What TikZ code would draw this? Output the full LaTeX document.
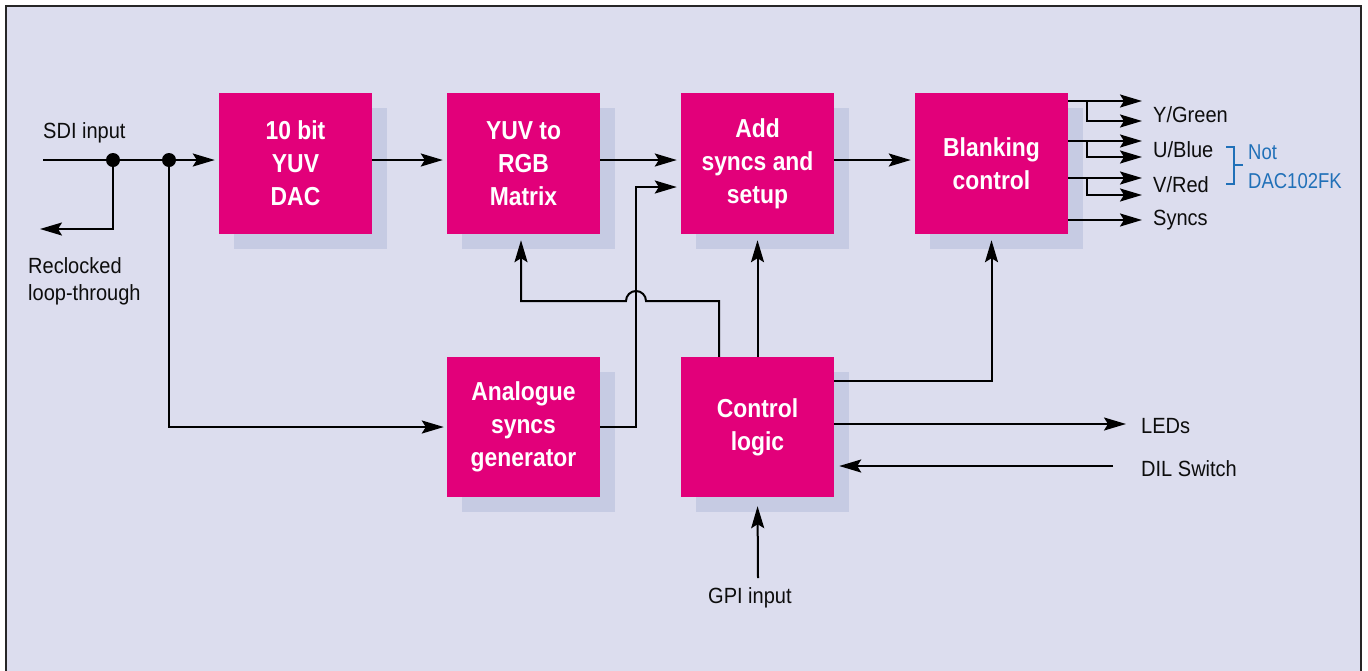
\documentclass[tikz,border=0pt]{standalone}
\usepackage{fontspec}
\usetikzlibrary{arrows.meta,shadows,calc}
\newfontfamily\labfont[FakeStretch=0.91]{Liberation Sans}
\newfontfamily\bluefont[FakeStretch=0.86]{Liberation Sans}
\newfontfamily\boxfont[FakeStretch=0.88]{Liberation Sans}
\definecolor{bg}{HTML}{DCDDEE}
\definecolor{shad}{HTML}{C6CBE3}
\definecolor{mag}{HTML}{E2007A}
\definecolor{blu}{HTML}{2070B8}
\tikzset{
  blockbox/.style={rectangle, fill=mag, minimum width=153pt, minimum height=141pt, inner sep=0pt,
    text=white, align=center, font=\boxfont\bfseries\fontsize{26}{33}\selectfont,
    general shadow={fill=shad, shadow xshift=15pt, shadow yshift=-15pt}},
  lab/.style={inner sep=0pt, font=\labfont\fontsize{22}{27}\selectfont, text=black!95},
  wire/.style={line width=2pt, draw=black},
  arr/.style={wire, -{Stealth[length=22pt,width=13pt,inset=4pt]}},
  dot/.style={circle, fill=black, minimum size=14pt, inner sep=0pt},
}
\begin{document}
\begin{tikzpicture}[x=1pt,y=-1pt]
\useasboundingbox (0,0) rectangle (1368,670);
\fill[white] (0,0) rectangle (1368,670);
\draw[fill=bg, line width=2pt, draw=black!85] (6,6) rectangle (1361,700);

% blocks
\node[blockbox] (dac) at (295.5,163.5) {10 bit\\YUV\\DAC};
\node[blockbox] (mat) at (523.5,163.5) {YUV to\\RGB\\Matrix};
\node[blockbox] (add) at (757.5,163.5) {Add\\syncs and\\setup};
\node[blockbox] (blk) at (991.5,163.5) {Blanking\\control};
\node[blockbox, minimum height=140pt] (gen) at (523.5,427) {Analogue\\syncs\\generator};
\node[blockbox, minimum height=140pt] (ctl) at (757.5,427) {Control\\logic};

% labels
\node[lab, anchor=base west] (sdi) at (43,138) {SDI input};
\node[lab, anchor=north west, align=left, font=\labfont\fontsize{22}{27}\selectfont] (loop) at (28,257) {Reclocked\\loop-through};
\node[lab, anchor=base west] (gpi) at (708,603) {GPI input};
\node[lab, anchor=base west] (leds) at (1141,433) {LEDs};
\node[lab, anchor=base west] (dil) at (1141,476) {DIL Switch};
\node[lab, anchor=base west] (yg) at (1153,122) {Y/Green};
\node[lab, anchor=base west] (ub) at (1153,157) {U/Blue};
\node[lab, anchor=base west] (vr) at (1153,192) {V/Red};
\node[lab, anchor=base west] (sy) at (1153,225) {Syncs};
\node[lab, anchor=north west, align=left, text=blu, font=\bluefont\fontsize{21.5}{29}\selectfont] (note) at (1248,145) {Not\\DAC102FK};

% coordinates
\coordinate (sdiIn) at (43,160);
\coordinate (loopEnd) at (40,229);
\coordinate (hop) at (636,301);
\coordinate (syncJ) at (636,187);
\coordinate (ctlA) at ($(ctl.north west)!0.25!(ctl.north east)$);
\coordinate (ctlB) at ($(ctl.north east)+(0,24)$);
\coordinate (ledsEnd) at (1126,424);
\coordinate (dilStart) at (1113,466);
\coordinate (gpiStart) at (758,578);

% SDI input
\node[dot] (d1) at (113,160) {};
\node[dot] (d2) at (169,160) {};
\draw[arr, shorten >=4pt] (sdiIn) -- (dac.west |- sdiIn);
\draw[arr] (d1.center) |- (loopEnd);
\draw[arr, shorten >=3pt] (d2.center) |- (gen.west);

% main chain
\draw[arr, shorten >=4pt] (dac.east |- sdiIn) -- (mat.west |- sdiIn);
\draw[arr, shorten >=4pt] (mat.east |- sdiIn) -- (add.west |- sdiIn);
\draw[arr, shorten >=4pt] (add.east |- sdiIn) -- (blk.west |- sdiIn);

% analogue syncs to add
\draw[arr, shorten >=4pt] (gen.east) -| (syncJ) -- (add.west |- syncJ);

% control logic connections
\draw[arr, shorten >=6pt] (ctlA) -- (ctlA |- hop) -- ($(hop)+(10,0)$)
   arc[start angle=0, end angle=180, radius=10pt] -- ($(mat.south |- hop)+(-2.5,0)$) -- ($(mat.south)+(-2.5,0)$);
\draw[arr, shorten >=6pt] (ctl.north) -- (add.south);
\draw[arr, shorten >=6pt] (ctlB) -| (blk.south);
\draw[arr] (ctl.east |- ledsEnd) -- (ledsEnd);
\draw[arr, shorten >=5pt] (dilStart) -- (ctl.east |- dilStart);
\draw[arr, shorten >=9pt] (gpiStart) -- (ctl.south);

% blanking outputs
\foreach \ya/\yb/\n in {101/121/y,141/157/u,178/195/v}{
  \draw[arr] (blk.east |- 0,\ya) -- (1142,\ya);
  \draw[arr] (1087,\ya) |- (1142,\yb);
}
\draw[arr] (blk.east |- 0,220) -- (1142,220);

% bracket
\draw[blu, line width=2pt] (1226,147) -- (1234,147) -- (1234,184) -- (1226,184);
\draw[blu, line width=2pt] (1234,165) -- (1243,165);
\end{tikzpicture}
\end{document}
